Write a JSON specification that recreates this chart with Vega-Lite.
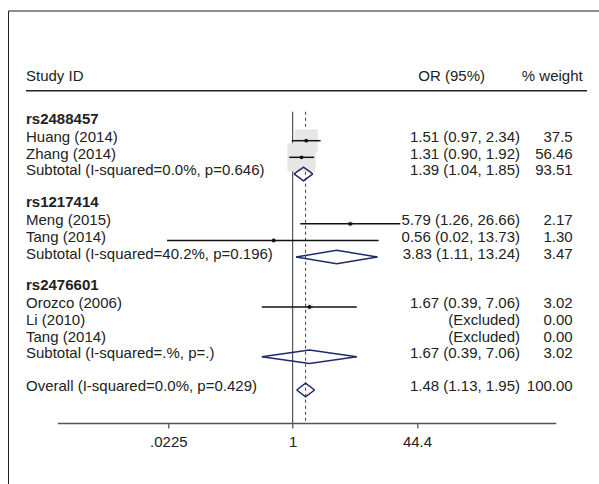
{
  "$schema": "https://vega.github.io/schema/vega-lite/v6.json",
  "autosize": "none",
  "padding": {"left": 57.3, "top": 0, "right": 43.3, "bottom": 61},
  "width": 498.4,
  "height": 423,
  "background": "white",
  "config": {
    "view": {"stroke": null},
    "text": {"font": "Liberation Sans", "fontSize": 15, "color": "#222"}
  },
  "data": {
    "values": [
      {"kind": "colhead", "label": "Study ID", "ci": "OR (95%)", "wt": "% weight"},
      {"kind": "header", "label": "rs2488457", "r": 0},
      {"kind": "study", "label": "Huang (2014)", "r": 1, "est": 1.51, "lo": 0.97, "hi": 2.34, "w": 37.5, "ci": "1.51 (0.97, 2.34)", "wt": "37.5"},
      {"kind": "study", "label": "Zhang (2014)", "r": 2, "est": 1.31, "lo": 0.90, "hi": 1.92, "w": 56.46, "ci": "1.31 (0.90, 1.92)", "wt": "56.46"},
      {"kind": "sub", "label": "Subtotal (I-squared=0.0%, p=0.646)", "r": 3, "est": 1.39, "lo": 1.04, "hi": 1.85, "w": 93.51, "ci": "1.39 (1.04, 1.85)", "wt": "93.51"},
      {"kind": "header", "label": "rs1217414", "r": 5},
      {"kind": "study", "label": "Meng (2015)", "r": 6, "est": 5.79, "lo": 1.26, "hi": 26.66, "w": 2.17, "ci": "5.79 (1.26, 26.66)", "wt": "2.17"},
      {"kind": "study", "label": "Tang (2014)", "r": 7, "est": 0.56, "lo": 0.0216, "hi": 13.73, "w": 1.30, "ci": "0.56 (0.02, 13.73)", "wt": "1.30"},
      {"kind": "sub", "label": "Subtotal (I-squared=40.2%, p=0.196)", "r": 8, "est": 3.83, "lo": 1.11, "hi": 13.24, "w": 3.47, "ci": "3.83 (1.11, 13.24)", "wt": "3.47"},
      {"kind": "header", "label": "rs2476601", "r": 10},
      {"kind": "study", "label": "Orozco (2006)", "r": 11, "est": 1.67, "lo": 0.39, "hi": 7.06, "w": 3.02, "ci": "1.67 (0.39, 7.06)", "wt": "3.02"},
      {"kind": "study", "label": "Li (2010)", "r": 12, "w": 0, "ci": "(Excluded)", "wt": "0.00"},
      {"kind": "study", "label": "Tang (2014)", "r": 13, "w": 0, "ci": "(Excluded)", "wt": "0.00"},
      {"kind": "sub", "label": "Subtotal (I-squared=.%, p=.)", "r": 14, "est": 1.67, "lo": 0.39, "hi": 7.06, "w": 3.02, "ci": "1.67 (0.39, 7.06)", "wt": "3.02"},
      {"kind": "overall", "label": "Overall (I-squared=0.0%, p=0.429)", "r": 16, "est": 1.48, "lo": 1.13, "hi": 1.95, "w": 100, "ci": "1.48 (1.13, 1.95)", "wt": "100.00"}
    ]
  },
  "layer": [
    {
      "transform": [{"filter": "datum.kind == 'colhead'"}],
      "mark": {"type": "rule", "color": "#222", "strokeWidth": 1},
      "encoding": {
        "x": {"datum": 0.00017121, "type": "quantitative"},
        "x2": {"datum": 10000000},
        "y": {"datum": -6.804, "type": "quantitative", "axis": null}
      }
    },
    {
      "transform": [{"filter": "datum.kind == 'colhead'"}],
      "mark": {"type": "rule", "color": "#222", "strokeWidth": 1},
      "encoding": {
        "x": {"datum": 0.00017121, "type": "quantitative"},
        "y": {"datum": -6.804, "type": "quantitative", "axis": null},
        "y2": {"datum": 40}
      }
    },
    {
      "transform": [{"filter": "datum.kind == 'colhead'"}],
      "mark": {"type": "rule", "color": "#222", "strokeWidth": 1.5},
      "encoding": {
        "x": {"datum": 0.00029205, "type": "quantitative"},
        "x2": {"datum": 7949},
        "y": {"datum": -2, "type": "quantitative", "axis": null}
      }
    },
    {
      "transform": [{"filter": "datum.kind == 'colhead'"}],
      "mark": {"type": "text", "align": "left", "baseline": "alphabetic"},
      "encoding": {
        "x": {"datum": 0.00029205, "type": "quantitative"},
        "y": {"datum": -2.62, "type": "quantitative", "axis": null},
        "text": {"field": "label", "type": "nominal"}
      }
    },
    {
      "transform": [{"filter": "datum.kind == 'colhead'"}],
      "mark": {"type": "text", "align": "right", "baseline": "alphabetic"},
      "encoding": {
        "x": {"datum": 353.6, "type": "quantitative"},
        "y": {"datum": -2.62, "type": "quantitative", "axis": null},
        "text": {"field": "ci", "type": "nominal"}
      }
    },
    {
      "transform": [{"filter": "datum.kind == 'colhead'"}],
      "mark": {"type": "text", "align": "right", "baseline": "alphabetic"},
      "encoding": {
        "x": {"datum": 6971.6, "type": "quantitative"},
        "y": {"datum": -2.62, "type": "quantitative", "axis": null},
        "text": {"field": "wt", "type": "nominal"}
      }
    },
    {
      "transform": [{"filter": "datum.kind == 'colhead'"}],
      "mark": {"type": "rule", "color": "#333", "strokeWidth": 1},
      "encoding": {
        "x": {"datum": 1, "type": "quantitative"},
        "y": {"datum": -0.744, "type": "quantitative", "axis": null},
        "y2": {"datum": 17.9856}
      }
    },
    {
      "transform": [{"filter": "datum.kind == 'overall'"}],
      "mark": {"type": "rule", "color": "#a8283c", "strokeWidth": 1.1, "strokeDash": [3, 3]},
      "encoding": {
        "x": {"field": "est", "type": "quantitative"},
        "y": {"datum": -0.744, "type": "quantitative", "axis": null},
        "y2": {"datum": 17.9856}
      }
    },
    {
      "transform": [{"filter": "datum.kind == 'study' && isValid(datum.lo)"}],
      "mark": {"type": "square", "color": "#e6e6e6", "opacity": 1, "filled": true},
      "encoding": {
        "x": {"field": "est", "type": "quantitative"},
        "y": {"field": "r", "type": "quantitative", "axis": null},
        "size": {"field": "w", "type": "quantitative", "scale": {"type": "linear", "domain": [0, 100], "range": [0, 1400]}, "legend": null}
      }
    },
    {
      "transform": [{"filter": "datum.kind == 'study' && isValid(datum.lo)"}],
      "mark": {"type": "rule", "color": "#111", "strokeWidth": 1.5},
      "encoding": {
        "x": {
          "field": "lo", "type": "quantitative",
          "scale": {"type": "log", "domain": [0.000759, 3058.3], "nice": false, "zero": false},
          "axis": {
            "values": [0.0225, 1, 44.4],
            "labelExpr": "datum.value < 0.1 ? '.0225' : (datum.value > 10 ? '44.4' : '1')",
            "title": null, "grid": false,
            "domainColor": "#555", "domainWidth": 1.6,
            "tickColor": "#555", "tickWidth": 1.3, "tickSize": 5,
            "labelFont": "Liberation Sans", "labelFontSize": 15, "labelColor": "#222",
            "labelPadding": 6, "labelFlush": false, "labelOverlap": false
          }
        },
        "x2": {"field": "hi"},
        "y": {
          "field": "r", "type": "quantitative",
          "scale": {"domain": [-7.4657, 17.9856], "reverse": true, "nice": false, "zero": false},
          "axis": null
        }
      }
    },
    {
      "transform": [{"filter": "datum.kind == 'study' && isValid(datum.lo)"}],
      "mark": {"type": "circle", "color": "#111", "size": 14, "opacity": 1},
      "encoding": {
        "x": {"field": "est", "type": "quantitative"},
        "y": {"field": "r", "type": "quantitative", "axis": null}
      }
    },
    {
      "transform": [
        {"filter": "datum.kind == 'sub' || datum.kind == 'overall'"},
        {"fold": ["lo", "est", "hi"], "as": ["key", "xv"]},
        {"calculate": "datum.key == 'est' ? datum.r - 0.41 : datum.r", "as": "yv"}
      ],
      "mark": {"type": "line", "color": "#1c2a6b", "strokeWidth": 1.5},
      "encoding": {
        "x": {"field": "xv", "type": "quantitative"},
        "y": {"field": "yv", "type": "quantitative", "axis": null},
        "detail": {"field": "r", "type": "nominal"}
      }
    },
    {
      "transform": [
        {"filter": "datum.kind == 'sub' || datum.kind == 'overall'"},
        {"fold": ["lo", "est", "hi"], "as": ["key", "xv"]},
        {"calculate": "datum.key == 'est' ? datum.r + 0.41 : datum.r", "as": "yv"}
      ],
      "mark": {"type": "line", "color": "#1c2a6b", "strokeWidth": 1.5},
      "encoding": {
        "x": {"field": "xv", "type": "quantitative"},
        "y": {"field": "yv", "type": "quantitative", "axis": null},
        "detail": {"field": "r", "type": "nominal"}
      }
    },
    {
      "transform": [{"filter": "datum.kind == 'header'"}],
      "mark": {"type": "text", "align": "left", "baseline": "alphabetic", "fontWeight": "bold", "dy": 0},
      "encoding": {
        "x": {"datum": 0.00029205, "type": "quantitative"},
        "y": {"field": "r", "type": "quantitative", "axis": null},
        "text": {"field": "label", "type": "nominal"}
      }
    },
    {
      "transform": [{"filter": "datum.kind != 'header' && datum.kind != 'colhead'"}],
      "mark": {"type": "text", "align": "left", "baseline": "alphabetic", "dy": 1.5},
      "encoding": {
        "x": {"datum": 0.00029205, "type": "quantitative"},
        "y": {"field": "r", "type": "quantitative", "axis": null},
        "text": {"field": "label", "type": "nominal"}
      }
    },
    {
      "transform": [{"filter": "datum.kind != 'header' && datum.kind != 'colhead'"}],
      "mark": {"type": "text", "align": "right", "baseline": "alphabetic", "dy": 1.5},
      "encoding": {
        "x": {"datum": 1028.8, "type": "quantitative"},
        "y": {"field": "r", "type": "quantitative", "axis": null},
        "text": {"field": "ci", "type": "nominal"}
      }
    },
    {
      "transform": [{"filter": "datum.kind != 'header' && datum.kind != 'colhead'"}],
      "mark": {"type": "text", "align": "right", "baseline": "alphabetic", "dy": 1.5},
      "encoding": {
        "x": {"datum": 5137.9, "type": "quantitative"},
        "y": {"field": "r", "type": "quantitative", "axis": null},
        "text": {"field": "wt", "type": "nominal"}
      }
    }
  ]
}
